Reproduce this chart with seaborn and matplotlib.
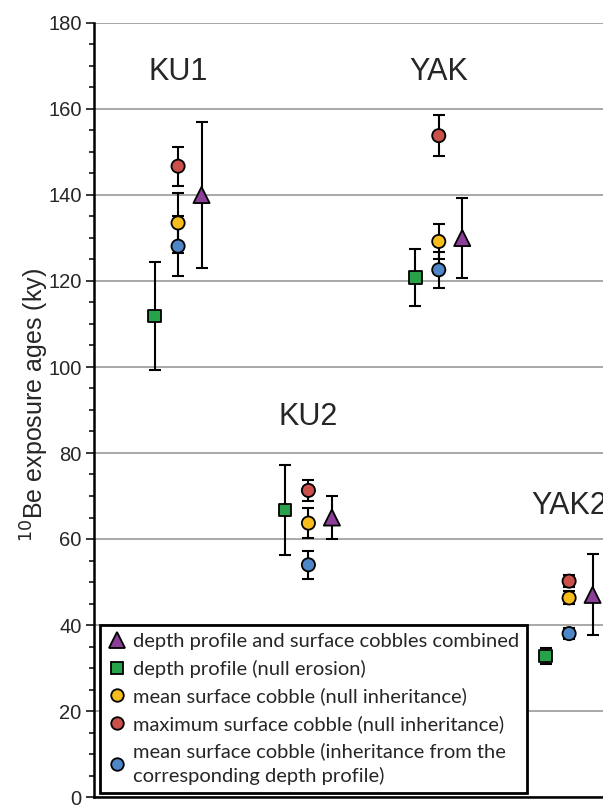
import numpy as np
import pandas as pd
import seaborn as sns
import matplotlib.pyplot as plt
from matplotlib.lines import Line2D
from matplotlib.ticker import MultipleLocator

# sites and methods (legend order)
sites = ['KU1', 'KU2', 'YAK', 'YAK2']
methods = ['depth profile and surface cobbles combined',
           'depth profile (null erosion)',
           'mean surface cobble (null inheritance)',
           'maximum surface cobble (null inheritance)',
           'mean surface cobble (inheritance from the\ncorresponding depth profile)']

# 10Be ages (ky) and 1-sigma errors, per site in the order of `sites`
combined_age = [140.0, 65.0, 130.0, 47.0]
combined_err = [17.0, 5.0, 9.3, 9.4]
depth_age = [111.8, 66.7, 120.8, 32.8]
depth_err = [12.6, 10.4, 6.7, 1.9]
mean_null_age = [133.5, 63.7, 129.2, 46.3]
mean_null_err = [7.0, 3.4, 4.1, 1.5]
max_null_age = [146.7, 71.3, 153.8, 50.2]
max_null_err = [4.5, 2.4, 4.7, 1.4]
mean_inh_age = [128.1, 54.0, 122.6, 38.0]
mean_inh_err = [6.9, 3.2, 4.2, 1.2]

site_label_y = [168.5, 88.3, 168.5, 67.6]

ages = [combined_age, depth_age, mean_null_age, max_null_age, mean_inh_age]
errs = [combined_err, depth_err, mean_null_err, max_null_err, mean_inh_err]

colors = ['#8b3f98', '#27a24a', '#f7bd1c', '#c9504b', '#4e87c7']
markers = ['^', 's', 'o', 'o', 'o']
offsets = [0.18, -0.18, 0.0, 0.0, 0.0]
msizes = [135, 80, 90, 90, 90]

rows = []
for m, a, e, off in zip(methods, ages, errs, offsets):
    for i, s in enumerate(sites):
        rows.append({'site': s, 'method': m, 'x': i + off, 'age': a[i], 'err': e[i]})
df = pd.DataFrame(rows)

sns.set_style('white')
plt.rcParams['font.family'] = ['Liberation Sans', 'DejaVu Sans']

fig = plt.figure(figsize=(6.03, 8.05), dpi=100)
ax = fig.add_axes([94 / 603, 8 / 805, 1 - 94 / 603, 774 / 805])

ax.errorbar(df['x'], df['age'], yerr=df['err'], fmt='none', ecolor='black',
            elinewidth=1.5, capsize=4, capthick=1.5, zorder=2)

sns.scatterplot(data=df, x='x', y='age', hue='method', style='method', size='method',
                palette=dict(zip(methods, colors)), markers=dict(zip(methods, markers)),
                sizes=dict(zip(methods, msizes)), edgecolor='black', linewidth=1.3,
                legend=False, zorder=3, ax=ax)

for i, s in enumerate(sites):
    ax.text(i, site_label_y[i], s, ha='center', va='center', fontsize=22)

ax.set_xlim(-0.645, 3.26)
ax.set_ylim(0, 180)
ax.yaxis.set_major_locator(MultipleLocator(20))
ax.yaxis.set_minor_locator(MultipleLocator(5))
ax.tick_params(axis='y', which='major', left=True, length=6, width=1.3, labelsize=14.5, pad=3)
ax.tick_params(axis='y', which='minor', left=True, length=3.5, width=1.3)
ax.set_xticks([])
ax.grid(axis='y', which='major', color='#999999', linewidth=1.2)
ax.set_axisbelow(True)
for side in ['top', 'right']:
    ax.spines[side].set_visible(False)
for side in ['left', 'bottom']:
    ax.spines[side].set_color('black')
    ax.spines[side].set_linewidth(1.8)

ax.set_xlabel('')
ax.set_ylabel(r'$^{10}$Be exposure ages (ky)', fontsize=18)
ax.yaxis.set_label_coords(-0.085, 0.506)

handles = [Line2D([], [], linestyle='none', marker=mk, markersize=ms, markerfacecolor=c,
                  markeredgecolor='black', markeredgewidth=1.3)
           for mk, c, ms in zip(markers, colors, [11.5, 9, 9, 9, 9])]
leg = ax.legend(handles, methods, loc='upper left', bbox_to_anchor=(100 / 603, 1 - 625 / 805),
                bbox_transform=fig.transFigure, borderaxespad=0, fancybox=False,
                framealpha=1, edgecolor='black', handlelength=0.9, handletextpad=0.35,
                labelspacing=0.48, borderpad=0.4, prop={'family': 'Lato', 'size': 14.5})
leg.get_frame().set_linewidth(2)
for t in leg.get_texts():
    t.set_linespacing(1.4)

fig.savefig('out.png', dpi=100)
